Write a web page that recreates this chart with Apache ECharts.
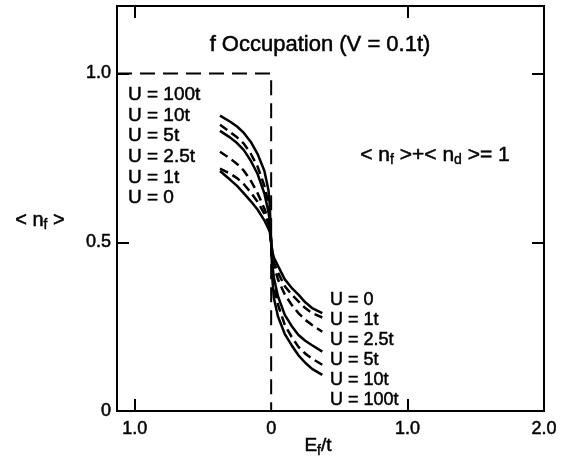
<!DOCTYPE html>
<html>
<head>
<meta charset="utf-8">
<script src="https://cdn.jsdelivr.net/npm/echarts@6/dist/echarts.min.js"></script>
<style>
  html, body { margin: 0; padding: 0; background: #fff; }
  #chart { width: 564px; height: 464px; }
</style>
</head>
<body>
<div id="chart"></div>
<script>
// E_f / t sample points
var ef = [-0.375, -0.3, -0.25, -0.2, -0.15, -0.1, -0.05, -0.02, -0.01, 0, 0.01, 0.02, 0.05, 0.1, 0.15, 0.2, 0.25, 0.3, 0.375];

// <n_f> for each U
var nf_U100 = [0.875, 0.857, 0.843, 0.824, 0.798, 0.762, 0.712, 0.655, 0.61, 0.5, 0.385, 0.335, 0.28, 0.228, 0.195, 0.165, 0.143, 0.125, 0.107];
var nf_U10  = [0.848, 0.826, 0.811, 0.792, 0.763, 0.725, 0.668, 0.615, 0.58, 0.5, 0.41, 0.37, 0.315, 0.255, 0.22, 0.19, 0.17, 0.155, 0.137];
var nf_U5   = [0.83, 0.81, 0.794, 0.773, 0.742, 0.703, 0.645, 0.59, 0.562, 0.5, 0.43, 0.395, 0.34, 0.285, 0.252, 0.225, 0.208, 0.195, 0.176];
var nf_U2_5 = [0.768, 0.748, 0.732, 0.712, 0.683, 0.646, 0.6, 0.567, 0.548, 0.5, 0.45, 0.43, 0.39, 0.345, 0.315, 0.29, 0.27, 0.255, 0.235];
var nf_U1   = [0.718, 0.703, 0.69, 0.672, 0.648, 0.62, 0.585, 0.555, 0.54, 0.5, 0.46, 0.44, 0.41, 0.37, 0.345, 0.325, 0.305, 0.29, 0.277];
var nf_U0   = [0.711, 0.685, 0.667, 0.645, 0.622, 0.597, 0.565, 0.54, 0.53, 0.5, 0.47, 0.455, 0.43, 0.39, 0.365, 0.345, 0.322, 0.305, 0.29];

// V = 0 step
var stepX = [-1.13, 0, 0];
var stepY = [1, 1, 0];

var xTicks = [-1, 0, 1, 2];
var yTicks = [0, 0.5, 1];
var uLabels = ['U = 100t', 'U = 10t', 'U = 5t', 'U = 2.5t', 'U = 1t', 'U = 0'];

function pairs(xs, ys) {
  var out = [];
  for (var i = 0; i < xs.length; i++) out.push([xs[i], ys[i]]);
  return out;
}

var FONT = '"Liberation Sans", Arial, Helvetica, sans-serif';
var INK = { fill: '#000', stroke: '#000', lineWidth: 0.5 };

function curve(name, ys, dashed) {
  return {
    name: name,
    type: 'line',
    data: pairs(ef, ys),
    showSymbol: false,
    symbol: 'none',
    smooth: false,
    lineStyle: { color: '#000', width: 2.5, type: dashed ? [9, 5] : 'solid' },
    z: 3
  };
}

function txt(x, y, text, size, align) {
  return { type: 'text', x: x, y: y, style: Object.assign({ text: text, font: size + 'px ' + FONT, align: align || 'left', verticalAlign: 'middle' }, INK) };
}

function richTxt(x, y, text, size) {
  return { type: 'text', x: x, y: y, style: {
    text: text, align: 'center', verticalAlign: 'middle',
    rich: {
      a: { fontSize: size, fontFamily: FONT, fill: '#000', stroke: '#000', lineWidth: 0.5 },
      s: { fontSize: 14, fontFamily: FONT, fill: '#000', stroke: '#000', lineWidth: 0.4, padding: [10, 0, 0, 0] }
    }
  } };
}

var chart = echarts.init(document.getElementById('chart'));

var graphics = [
  txt(320, 45, 'f Occupation (V = 0.1t)', 22, 'center'),
  richTxt(435, 155, '{a|< n}{s|f}{a| >+< n}{s|d}{a| >= 1}', 21),
  richTxt(40, 220, '{a|< n}{s|f}{a| >}', 20),
  richTxt(318, 446, '{a|E}{s|f}{a|/t}', 19)
];

for (var i = 0; i < uLabels.length; i++) {
  graphics.push(txt(128, 95 + i * 20.6, uLabels[i], 19));
  graphics.push(txt(330, 400 - i * 20, uLabels[i], 18));
}

var tickStyle = { show: true, inside: true, length: 12, lineStyle: { color: '#000', width: 2 } };
var labelStyle = { color: '#000', fontSize: 18, fontFamily: FONT, textBorderColor: '#000', textBorderWidth: 0.5 };

var option = {
  animation: false,
  backgroundColor: '#fff',
  grid: { left: 117, right: 20, top: 6, bottom: 53, show: true, borderColor: '#000', borderWidth: 2, backgroundColor: 'transparent' },
  xAxis: [{
    type: 'value', min: -1.13, max: 2.0, position: 'bottom',
    axisLine: { show: false, onZero: false },
    splitLine: { show: false },
    axisTick: Object.assign({ customValues: [-1, 1] }, tickStyle),
    axisLabel: Object.assign({
      customValues: xTicks, margin: 9,
      formatter: function (v) { return v === 0 ? '0' : Math.abs(v).toFixed(1); }
    }, labelStyle)
  }, {
    type: 'value', min: -1.13, max: 2.0, position: 'top',
    axisLine: { show: false, onZero: false },
    splitLine: { show: false },
    axisTick: Object.assign({ customValues: [-1, 1] }, tickStyle),
    axisLabel: { show: false }
  }],
  yAxis: [{
    type: 'value', min: 0, max: 1.2, position: 'left',
    axisLine: { show: false, onZero: false },
    splitLine: { show: false },
    axisTick: Object.assign({ customValues: [0.5, 1] }, tickStyle),
    axisLabel: Object.assign({
      customValues: yTicks, margin: 6,
      formatter: function (v) { return v === 0 ? '0' : v.toFixed(1); }
    }, labelStyle)
  }, {
    type: 'value', min: 0, max: 1.2, position: 'right',
    axisLine: { show: false, onZero: false },
    splitLine: { show: false },
    axisTick: Object.assign({ customValues: [0.5, 1] }, tickStyle),
    axisLabel: { show: false }
  }],
  graphic: graphics,
  series: [
    {
      name: 'V = 0',
      type: 'line',
      data: pairs(stepX, stepY),
      symbol: 'none',
      lineStyle: { color: '#000', width: 2, type: [15, 8] },
      z: 2
    },
    curve('U = 100t', nf_U100, false),
    curve('U = 10t', nf_U10, true),
    curve('U = 5t', nf_U5, false),
    curve('U = 2.5t', nf_U2_5, true),
    curve('U = 1t', nf_U1, true),
    curve('U = 0', nf_U0, false)
  ]
};

chart.setOption(option);
</script>
</body>
</html>
